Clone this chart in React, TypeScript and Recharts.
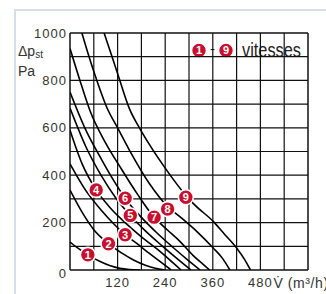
import React from 'react';
import { ComposedChart, Line, XAxis, YAxis, ReferenceLine, ReferenceArea, Scatter } from 'recharts';

// flow (m³/h) and static pressure (Pa) for each speed curve
const speed1V = [0, 20, 45, 76, 100, 126, 150, 176];
const speed1P = [118, 92, 64, 36, 19, 7, 2, 0];
const speed2V = [0, 30, 60, 97, 130, 160, 190, 215, 239];
const speed2P = [337, 245, 170, 111, 72, 42, 20, 7, 0];
const speed3V = [0, 40, 80, 110, 139, 170, 200, 230, 255];
const speed3P = [448, 335, 250, 195, 149, 110, 70, 32, 0];
const speed4V = [0, 30, 66, 100, 139, 180, 220, 250, 280];
const speed4P = [590, 450, 338, 265, 200, 140, 88, 45, 0];
const speed5V = [0, 40, 80, 115, 152, 190, 230, 270, 305];
const speed5P = [683, 520, 395, 305, 230, 165, 105, 48, 0];
const speed6V = [0, 40, 80, 110, 139, 180, 220, 260, 295, 328];
const speed6P = [751, 590, 465, 378, 303, 222, 155, 95, 45, 0];
const speed7V = [0, 25, 50, 90, 130, 170, 212, 245, 277, 310, 335, 352];
const speed7P = [935, 800, 674, 535, 425, 320, 223, 170, 121, 62, 25, 0];
const speed8V = [30, 48, 66, 96, 116, 150, 200, 246, 277, 320, 361, 385, 403];
const speed8P = [1000, 900, 808, 674, 612, 505, 365, 268, 225, 162, 93, 48, 0];
const speed9V = [86, 105, 124, 150, 175, 200, 240, 292, 311, 361, 390, 420, 440, 455];
const speed9P = [1000, 905, 808, 680, 600, 530, 430, 315, 280, 205, 150, 93, 45, 0];

// speed marker positions
const markerN = [1, 2, 3, 4, 5, 6, 7, 8, 9];
const markerV = [45, 97, 139, 66, 152, 139, 212, 246, 292];
const markerP = [64, 111, 149, 338, 230, 303, 223, 257, 307];

// axes
const xTicks = [120, 240, 360, 480];
const yTicks = [0, 200, 400, 600, 800, 1000];
const xGrid = [60, 120, 180, 240, 300, 360, 420, 480, 540];
const yGrid = [100, 200, 300, 400, 500, 600, 700, 800, 900];
const xUnit = 'V̇ (m³/h)';
const legendText = 'vitesses';

const speedsV = [speed1V, speed2V, speed3V, speed4V, speed5V, speed6V, speed7V, speed8V, speed9V];
const speedsP = [speed1P, speed2P, speed3P, speed4P, speed5P, speed6P, speed7P, speed8P, speed9P];
const curves = speedsV.map((vs, i) => vs.map((v, j) => ({ v, p: speedsP[i][j] })));
const markers = markerN.map((n, i) => ({ v: markerV[i], p: markerP[i], n }));

const RED = '#c8102e';
const TICK_FONT = "'Liberation Sans', Arial, sans-serif";

const Badge = ({ cx, cy, n }: { cx: number; cy: number; n: number }) => (
  <g>
    <circle cx={cx} cy={cy} r={7.5} fill={RED} stroke="#fff" strokeWidth={1.6} />
    <text x={cx} y={cy + 3.9} textAnchor="middle" fill="#fff" fontSize={11} fontWeight="bold" fontFamily={TICK_FONT}>
      {n}
    </text>
  </g>
);

const MarkerShape = (props: any) => {
  const { cx, cy, payload } = props;
  if (cx == null || cy == null) return null;
  return <Badge cx={cx} cy={cy} n={payload.n} />;
};

const XTick = (props: any) => {
  const { x, y, payload } = props;
  const last = payload.value === xTicks[xTicks.length - 1];
  return (
    <g>
      <text x={x} y={y} dy="0.71em" textAnchor="middle" fill="#333" fontSize={13} letterSpacing={1} fontFamily={TICK_FONT}>
        {payload.value}
      </text>
      {last && (
        <text x={x + 13} y={y} dy="0.71em" textAnchor="start" fill="#333" fontSize={14} letterSpacing={0.6} fontFamily={TICK_FONT}>
          {xUnit}
        </text>
      )}
    </g>
  );
};

const YTick = (props: any) => {
  const { x, y, payload } = props;
  return (
    <text x={x} y={y + (payload.value === 0 ? 3 : 0)} dy="0.355em" textAnchor="end" fill="#333" fontSize={13} letterSpacing={1} fontFamily={TICK_FONT}>
      {payload.value}
    </text>
  );
};

const YLabel = (props: any) => {
  const vb = props.viewBox || { x: 0, y: 0 };
  const x0 = vb.x + 8;
  const y0 = vb.y;
  return (
    <g fill="#333" fontFamily={TICK_FONT}>
      <text x={x0} y={y0 + 23} fontSize={14}>
        Δp
        <tspan fontSize={10} dy={2}>st</tspan>
      </text>
      <text x={x0} y={y0 + 43} fontSize={14}>Pa</text>
    </g>
  );
};

const LegendContent = (props: any) => {
  const vb = props.viewBox || { x: 0, y: 0, width: 0, height: 0 };
  const cy = vb.y + 17;
  const x0 = vb.x + 10;
  return (
    <g>
      <Badge cx={x0} cy={cy} n={markerN[0]} />
      <text x={x0 + 13.5} y={cy + 4} textAnchor="middle" fill="#222" fontSize={15} fontFamily={TICK_FONT}>-</text>
      <Badge cx={x0 + 27} cy={cy} n={markerN[markerN.length - 1]} />
      <text x={x0 + 43} y={cy + 7} fill="#222" fontSize={21} textLength={59} lengthAdjust="spacingAndGlyphs"
        fontFamily="'Liberation Sans Narrow', 'Liberation Sans', Arial, sans-serif">
        {legendText}
      </text>
    </g>
  );
};

export default function App() {
  return (
    <div style={{ position: 'absolute', left: 0, top: 0, width: 326, height: 294, background: '#fff', overflow: 'hidden' }}>
      <div style={{ position: 'absolute', left: 14, top: 9, right: 0, bottom: 0, borderLeft: '2px solid #d3e0ea', borderTop: '2px solid #d3e0ea' }} />
      <div style={{ position: 'absolute', left: 0, top: 0 }}>
        <ComposedChart width={326} height={294} margin={{ top: 33, right: 18, bottom: 4, left: 10 }} style={{ overflow: 'visible' }}>
          <XAxis dataKey="v" type="number" domain={[0, 600]} ticks={xTicks} tickLine={false} axisLine={false}
            tickSize={6} tickMargin={2} tick={<XTick />} height={20} allowDataOverflow interval={0} />
          <YAxis dataKey="p" type="number" domain={[0, 1000]} ticks={yTicks} tickLine={false} axisLine={false}
            tickSize={2} tickMargin={1} tick={<YTick />} width={60} allowDataOverflow interval={0}
            label={<YLabel />} />
          {xGrid.map((g) => (
            <ReferenceLine key={'x' + g} x={g} stroke="#111" strokeWidth={1.2} />
          ))}
          {yGrid.map((g) => (
            <ReferenceLine key={'y' + g} y={g} stroke="#111" strokeWidth={1.2} />
          ))}
          <ReferenceArea x1={300} x2={598} y1={872} y2={998} fill="#fff" fillOpacity={1} stroke="none"
            label={<LegendContent />} />
          <ReferenceLine x={0} stroke="#111" strokeWidth={1.5} />
          <ReferenceLine x={600} stroke="#111" strokeWidth={1.5} />
          <ReferenceLine y={0} stroke="#111" strokeWidth={1.5} />
          <ReferenceLine y={1000} stroke="#111" strokeWidth={1.5} />
          {curves.map((c, i) => (
            <Line key={'s' + i} data={c} dataKey="p" type="monotone" stroke="#000" strokeWidth={1.6}
              dot={false} activeDot={false} isAnimationActive={false} />
          ))}
          <Scatter data={markers} dataKey="p" shape={<MarkerShape />} isAnimationActive={false} />
        </ComposedChart>
      </div>
    </div>
  );
}
